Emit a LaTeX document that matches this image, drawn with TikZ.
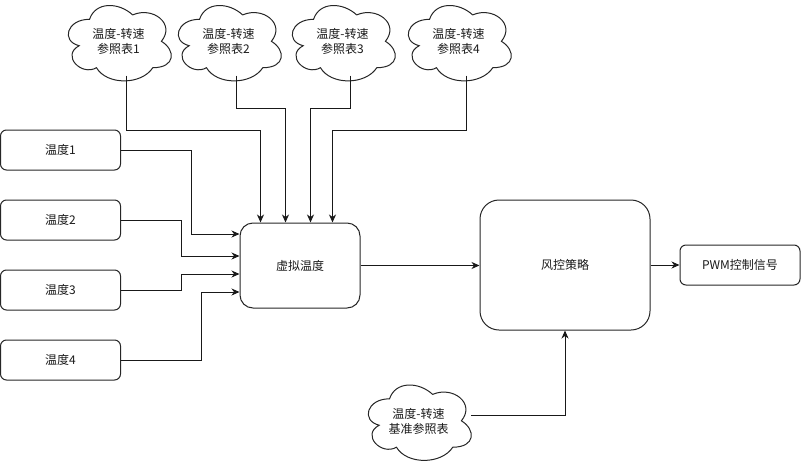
\documentclass[tikz,border=0pt]{standalone}
\usepackage{fontspec}
\setmainfont{Noto Sans CJK SC}
\usetikzlibrary{arrows.meta,calc}
\tikzset{
  every node/.style={font=\fontsize{12}{15}\selectfont, text=black!90},
  ln/.style={line width=1pt, draw=black!85},
  box/.style={ln, rounded corners=6pt, minimum width=120pt, minimum height=40pt, inner sep=0pt, align=center},
  arr/.style={line width=1pt, draw=black!90, -{Stealth[length=8pt,width=7pt,inset=2.5pt]}},
  cloudnode/.style={minimum width=115pt, minimum height=88pt, inner sep=0pt, align=center},
}
\newcommand\mycloud[1]{%
  \begin{scope}[shift={(#1.north west)}, x=115pt, y=-88pt]
    \draw[ln] (0.25,0.25) .. controls (0.05,0.25) and (0,0.5) .. (0.16,0.55)
      .. controls (0,0.66) and (0.18,0.9) .. (0.31,0.8)
      .. controls (0.4,1) and (0.7,1) .. (0.8,0.8)
      .. controls (1,0.8) and (1,0.6) .. (0.875,0.5)
      .. controls (1,0.3) and (0.8,0.1) .. (0.625,0.2)
      .. controls (0.5,0.05) and (0.3,0.05) .. (0.25,0.25) -- cycle;
    \coordinate (#1-b) at (0.57,0.889);
    \coordinate (#1-r) at (0.96,0.44);
  \end{scope}}
\begin{document}
\begin{tikzpicture}[x=1pt, y=-1pt]
  \useasboundingbox (0,0) rectangle (801,461);
  % clouds
  \node[cloudnode] (c1) at (118.5,41.5) {温度-转速\\参照表1};
  \node[cloudnode] (c2) at (228.5,41.5) {温度-转速\\参照表2};
  \node[cloudnode] (c3) at (342.5,41.5) {温度-转速\\参照表3};
  \node[cloudnode] (c4) at (458.5,41.5) {温度-转速\\参照表4};
  \node[cloudnode] (c5) at (418.5,421) {温度-转速\\基准参照表};
  \mycloud{c1}\mycloud{c2}\mycloud{c3}\mycloud{c4}\mycloud{c5}
  % boxes
  \node[box] (t1) at (60.5,150) {温度1};
  \node[box] (t2) at (60.5,220) {温度2};
  \node[box] (t3) at (60.5,290) {温度3};
  \node[box] (t4) at (60.5,360) {温度4};
  \node[box, rounded corners=13pt, minimum height=85pt] (v) at (300,265.5) {虚拟温度};
  \node[box, rounded corners=19pt, minimum width=170pt, minimum height=130pt] (f) at (565,265) {风控策略};
  \node[box] (p) at (740,265) {PWM控制信号};
  % routing levels
  \coordinate (r1) at (0,130);
  \coordinate (r2) at (0,108);
  % cloud connectors
  \draw[arr] (c1-b) -- (c1-b |- r1) -| ([xshift=21pt]v.north west);
  \draw[arr] (c2-b) -- (c2-b |- r2) -| ([xshift=46pt]v.north west);
  \draw[arr] (c3-b) -- (c3-b |- r2) -| ([xshift=71pt]v.north west);
  \draw[arr] (c4-b) -- (c4-b |- r1) -| ([xshift=93pt]v.north west);
  % temperature inputs
  \draw[arr] (t1.east) -- ++(70,0) |- ([yshift=31.5pt]v.west);
  \draw[arr] (t2.east) -- ++(60,0) |- ([yshift=9.5pt]v.west);
  \draw[arr] (t3.east) -- ++(60,0) |- ([yshift=-8.5pt]v.west);
  \draw[arr] (t4.east) -- ++(80,0) |- ([yshift=-26.5pt]v.west);
  % main flow
  \draw[arr] (v.east) -- (v.east -| f.west);
  \draw[arr] (f.east) -- (p.west);
  \draw[arr] (c5-r) -| (f.south);
\end{tikzpicture}
\end{document}
